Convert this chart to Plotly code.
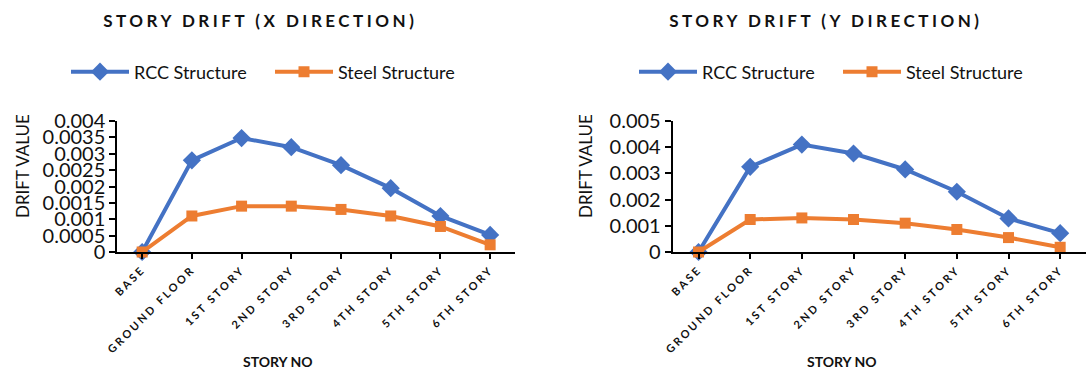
import plotly.graph_objects as go

categories = ["BASE", "GROUND FLOOR", "1ST STORY", "2ND STORY", "3RD STORY",
              "4TH STORY", "5TH STORY", "6TH STORY"]

rcc_x = [0, 0.0028, 0.00348, 0.0032, 0.00265, 0.00195, 0.0011, 0.00052]
steel_x = [0, 0.0011, 0.0014, 0.0014, 0.0013, 0.0011, 0.00078, 0.00022]

rcc_y = [0, 0.00325, 0.0041, 0.00376, 0.00315, 0.0023, 0.00128, 0.00072]
steel_y = [0, 0.00124, 0.0013, 0.00124, 0.0011, 0.00086, 0.00055, 0.00018]

title_x = "STORY DRIFT (X DIRECTION)"
title_y = "STORY DRIFT (Y DIRECTION)"
x_title = "STORY NO"
y_title = "DRIFT VALUE"
names = ["RCC Structure", "Steel Structure"]

BLUE = "#4472C4"
ORANGE = "#ED7D31"
FONT = "Lato"
W, H = 1087, 372

fig = go.Figure()

def add_pair(rcc, steel, xa, ya, legend):
    fig.add_trace(go.Scatter(
        x=categories, y=rcc, name=names[0], mode="lines+markers",
        line=dict(color=BLUE, width=4),
        marker=dict(symbol="diamond", size=14, color=BLUE),
        xaxis=xa, yaxis=ya, legend=legend, cliponaxis=False))
    fig.add_trace(go.Scatter(
        x=categories, y=steel, name=names[1], mode="lines+markers",
        line=dict(color=ORANGE, width=4),
        marker=dict(symbol="square", size=11, color=ORANGE),
        xaxis=xa, yaxis=ya, legend=legend, cliponaxis=False))

add_pair(rcc_x, steel_x, "x", "y", "legend")
add_pair(rcc_y, steel_y, "x2", "y2", "legend2")

ybot = 1 - 252 / H
ytop = 1 - 121 / H

xaxis_common = dict(
    type="category", categoryorder="array", categoryarray=categories,
    range=[-0.5, 7.5], showline=True, linecolor="black", linewidth=2,
    ticks="outside", ticklen=5, tickwidth=1.5, tickcolor="black",
    tickangle=-45, showgrid=False, zeroline=False, automargin=False,
    tickfont=dict(family=FONT, size=11, color="#111", weight="bold"),
)
yaxis_common = dict(
    showline=True, linecolor="black", linewidth=2,
    ticks="outside", ticklen=6, tickwidth=1.5, tickcolor="black",
    showgrid=False, zeroline=False, tickformat=".4~f", automargin=False,
    tickfont=dict(family=FONT, size=20, color="#111"),
)

legend_common = dict(orientation="h", xanchor="left", yanchor="middle",
                     font=dict(family=FONT, size=18, color="#111"),
                     bgcolor="rgba(0,0,0,0)", itemwidth=58, tracegroupgap=0,
                     entrywidth=131, entrywidthmode="pixels")

fig.update_layout(
    width=W, height=H,
    margin=dict(l=0, r=0, t=0, b=0, autoexpand=False),
    paper_bgcolor="white", plot_bgcolor="white",
    font=dict(family=FONT, color="#111"),
    xaxis=dict(domain=[117.3 / W, 515 / W], anchor="y", **xaxis_common),
    yaxis=dict(domain=[ybot, ytop], anchor="x", range=[0, 0.004], dtick=0.0005, **yaxis_common),
    xaxis2=dict(domain=[672.7 / W, 1086 / W], anchor="y2", **xaxis_common),
    yaxis2=dict(domain=[ybot, ytop], anchor="x2", range=[0, 0.005], dtick=0.001, **yaxis_common),
    legend=dict(x=66 / W, y=1 - 72 / H, **legend_common),
    legend2=dict(x=634 / W, y=1 - 72 / H, **legend_common),
    showlegend=True,
)

annots = [
    dict(text=title_x, x=260, y=21, size=17),
    dict(text=title_y, x=826, y=21, size=17),
    dict(text=x_title, x=278, y=361, size=14),
    dict(text=x_title, x=842, y=361, size=14),
]
for a in annots:
    fig.add_annotation(text=a["text"], x=a["x"] / W, y=1 - a["y"] / H, xref="paper", yref="paper",
                       xanchor="center", yanchor="middle", showarrow=False,
                       font=dict(family=FONT, size=a["size"], color="#111", weight="bold"))

for xc in (22, 585):
    fig.add_annotation(text=y_title, x=xc / W, y=1 - 166 / H, xref="paper", yref="paper",
                       xanchor="center", yanchor="middle", showarrow=False, textangle=-90,
                       font=dict(family=FONT, size=17, color="#111"))

post = """
document.body.style.margin='0';
document.body.style.padding='0';
function spaceIt(){
  document.querySelectorAll('.xtick text, .x2tick text').forEach(function(t){t.style.letterSpacing='2.5px';});
  document.querySelectorAll('.annotation-text').forEach(function(t){
    if(t.textContent.indexOf('STORY DRIFT')===0){t.style.letterSpacing='3.5px';}
  });
}
spaceIt();
var gd=document.getElementsByClassName('plotly-graph-div')[0];
gd.on('plotly_afterplot', spaceIt);
"""

fig.write_html("out.html", post_script=post, config={"displayModeBar": False})
